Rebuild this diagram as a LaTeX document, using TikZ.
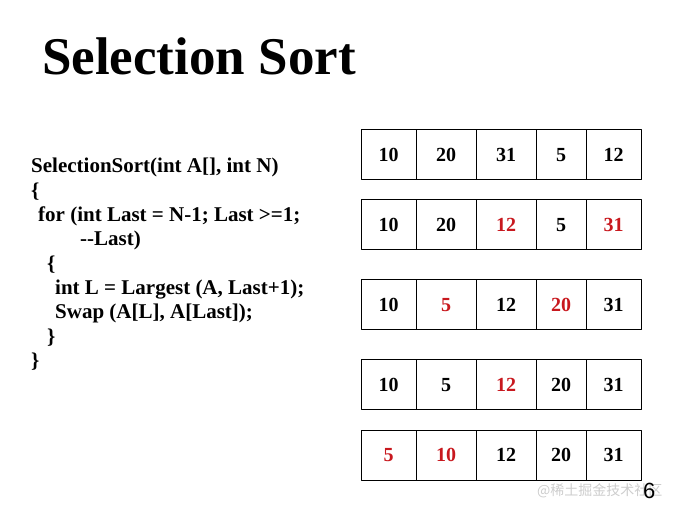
\documentclass[tikz,border=0pt]{standalone}
\usepackage{fontspec}
\setmainfont{Liberation Serif}
\newfontfamily\pagefont{Liberation Sans}
\newfontfamily\wmfont{Noto Sans CJK SC}
\definecolor{hlred}{RGB}{200,24,30}
\definecolor{wmgray}{RGB}{205,205,205}
\newcommand{\hl}[1]{\textcolor{hlred}{#1}}

\begin{document}
\begin{tikzpicture}[x=1pt, y=-1pt, line join=round, line cap=round,
		cell/.style={draw, line width=1pt, inner sep=0pt, minimum height=50pt,
			font=\fontsize{20}{20}\selectfont\bfseries},
		codeline/.style={anchor=base west, inner sep=0pt,
			font=\fontsize{21}{21}\selectfont\bfseries}]
		\useasboundingbox (0,0) rectangle (680,510);
		\node[anchor=base west, inner sep=0pt, font=\fontsize{53}{53}\selectfont\bfseries]
			(title) at (42,75) {Selection Sort};
		% code lines
		\foreach \x/\txt [count=\i] in {
			31/{SelectionSort(int A[], int N)},
			31/\{,
			38/{for (int Last = N-1; Last >=1;},
			80/{-{}-Last)},
			47/\{,
			55/{int L = Largest (A, Last+1);},
			55/{Swap (A[L], A[Last]);},
			47/\},
			31/\}}{
			\node[codeline] (line\i) at (\x,{173+24.3*(\i-1)}) {\txt};
		}
		% array rows
		\foreach \row/\top/\vals in {
			1/130/{10,20,31,5,12},
			2/200/{10,20,\hl{12},5,\hl{31}},
			3/280/{10,\hl{5},12,\hl{20},31},
			4/360/{10,5,\hl{12},20,31},
			5/430/{\hl{5},\hl{10},12,20,31}}{
			\foreach \v [count=\c] in \vals {
				\pgfmathsetmacro\xl{{361,416,476,536,586}[\c-1]}
				\pgfmathsetmacro\xr{{416,476,536,586,641}[\c-1]}
				\pgfmathsetmacro\cw{\xr-\xl}
				\node[cell, minimum width=\cw pt] (c\row\c) at ({(\xl+\xr)/2},{\top+25}) {\v};
			}
		}
		\node[anchor=base west, inner sep=0pt, text=wmgray, font=\wmfont\fontsize{14}{14}\selectfont]
			(mark) at (537,495) {@稀土掘金技术社区};
		\node[anchor=base west, inner sep=0pt, font=\pagefont\fontsize{22}{22}\selectfont]
			(page) at (643,498) {6};
		\end{tikzpicture}
\end{document}
